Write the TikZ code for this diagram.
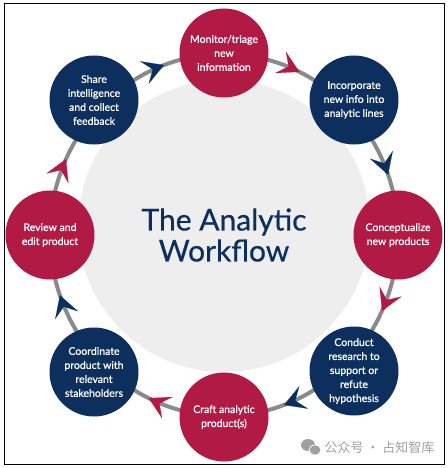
\documentclass[tikz,border=0pt]{standalone}
\usepackage{fontspec}
\setmainfont{Lato}
\newfontfamily\medfont{Lato}[FakeBold=0.9]
\newfontfamily\titlefont{Lato}[FakeBold=0.6]
\newfontfamily\cjkfont{Noto Sans CJK SC}
\usetikzlibrary{arrows.meta,decorations.markings}
\definecolor{crim}{HTML}{B01A45}
\definecolor{navy}{HTML}{0C2F5E}
\definecolor{ringgray}{HTML}{8A8A8A}
\definecolor{diskgray}{HTML}{EEEEEF}
\definecolor{wmgray}{HTML}{A0A0A0}
\tikzset{
  stage/.style={circle, minimum size=89pt, inner sep=0pt, text=white,
    font=\medfont\fontsize{10.5}{14}\selectfont, align=center},
  redstage/.style={stage, fill=crim},
  navystage/.style={stage, fill=navy},
  ring/.style={draw=ringgray, line width=4pt},
  titletext/.style={text=navy, font=\titlefont\fontsize{30}{31}\selectfont, align=center},
  wm/.style={text=wmgray, font=\cjkfont\fontsize{13}{14}\selectfont}
}
\begin{document}
\begin{tikzpicture}[x=1pt,y=-1pt]
\useasboundingbox (0,0) rectangle (447,468);
\draw[line width=1pt] (4,4) rectangle (444,464);
\fill[diskgray] (224,226) circle[radius=146];
\path[ring, postaction={decorate}, decoration={markings,
  mark=at position 0.070 with {\arrow{Stealth[length=21pt,width=24pt,inset=9pt,color=crim,line width=0.1pt]}},
  mark=at position 0.195 with {\arrow{Stealth[length=21pt,width=24pt,inset=9pt,color=navy,line width=0.1pt]}},
  mark=at position 0.320 with {\arrow{Stealth[length=21pt,width=24pt,inset=9pt,color=crim,line width=0.1pt]}},
  mark=at position 0.445 with {\arrow{Stealth[length=21pt,width=24pt,inset=9pt,color=navy,line width=0.1pt]}},
  mark=at position 0.570 with {\arrow{Stealth[length=21pt,width=24pt,inset=9pt,color=crim,line width=0.1pt]}},
  mark=at position 0.695 with {\arrow{Stealth[length=21pt,width=24pt,inset=9pt,color=navy,line width=0.1pt]}},
  mark=at position 0.820 with {\arrow{Stealth[length=21pt,width=24pt,inset=9pt,color=crim,line width=0.1pt]}},
  mark=at position 0.945 with {\arrow{Stealth[length=21pt,width=24pt,inset=9pt,color=navy,line width=0.1pt]}}
  }] (224,235) ellipse[x radius=174, y radius=181];
\node[redstage]   (mon) at (224,53)  {Monitor/triage\\new\\information};
\node[navystage]  (inc) at (354,100) {Incorporate\\new info into\\analytic lines};
\node[redstage]   (con) at (398,235) {Conceptualize\\new products};
\node[navystage]  (res) at (354,371) {Conduct\\research to\\support or\\refute\\hypothesis};
\node[redstage]   (cra) at (224,417) {Craft analytic\\product(s)};
\node[navystage]  (coo) at (94,372)  {Coordinate\\product with\\relevant\\stakeholders};
\node[redstage]   (rev) at (50,235)  {Review and\\edit product};
\node[navystage]  (sha) at (94,100)  {Share\\intelligence\\and collect\\feedback};
\node[titletext]  (ttl) at (224,235) {The Analytic\\Workflow};
\fill[wmgray] (308,445) ellipse[x radius=7, y radius=6];
\filldraw[fill=wmgray, draw=white, line width=0.8pt] (315,450) ellipse[x radius=6, y radius=5];
\node[wm, anchor=west] (wmk) at (321,448) {公众号 · 占知智库};
\end{tikzpicture}
\end{document}
